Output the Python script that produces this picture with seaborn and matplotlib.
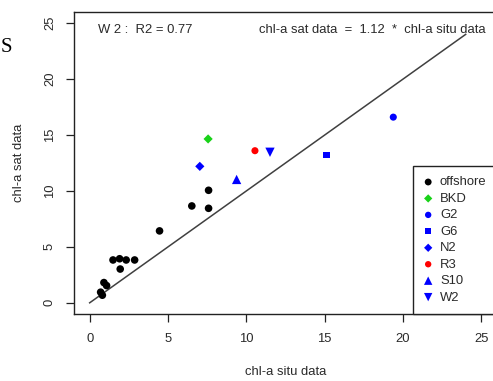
import matplotlib
matplotlib.use('Agg')
import matplotlib.pyplot as plt
import seaborn as sns
import pandas as pd

# offshore stations (black dots)
offshore_x = [0.70, 0.81, 0.91, 1.08, 1.49, 1.91, 1.95, 2.33, 2.87, 4.46, 6.52, 7.59, 7.59]
offshore_y = [0.95, 0.68, 1.81, 1.54, 3.83, 3.94, 3.02, 3.83, 3.83, 6.43, 8.66, 10.06, 8.45]

# named coastal stations
station_names = ['BKD', 'G2', 'G6', 'N2', 'R3', 'S10', 'W2']
station_x = [7.56, 19.38, 15.12, 7.03, 10.55, 9.38, 11.51]
station_y = [14.65, 16.60, 13.20, 12.20, 13.60, 11.03, 13.46]

# 1:1 reference segment
line_x = [0, 24]
line_y = [0, 24]

x_ticks = [0, 5, 10, 15, 20, 25]
y_ticks = [0, 5, 10, 15, 20, 25]

r2_label = 'W 2 :  R2 = 0.77'
eq_label = 'chl-a sat data  =  1.12  *  chl-a situ data'

df = pd.DataFrame({'site': ['offshore'] * len(offshore_x) + station_names,
                   'situ': offshore_x + station_x,
                   'sat': offshore_y + station_y})

colors = {'offshore': 'black', 'BKD': '#19d219', 'G2': 'blue', 'G6': 'blue',
          'N2': 'blue', 'R3': 'red', 'S10': 'blue', 'W2': 'blue'}
markers = {'offshore': 'o', 'BKD': 'D', 'G2': 'o', 'G6': 's',
           'N2': 'D', 'R3': 'o', 'S10': '^', 'W2': 'v'}
sizes = {'offshore': 30, 'BKD': 22, 'G2': 26, 'G6': 22,
         'N2': 22, 'R3': 26, 'S10': 45, 'W2': 45}

txt = '#2a2a2a'
plt.rcParams['font.family'] = ['Liberation Sans', 'DejaVu Sans']

fig = plt.figure(figsize=(4.93, 3.81), dpi=100)
ax = fig.add_axes([74 / 493, 1 - 314 / 381, 423 / 493, 302 / 381])

for site in ['offshore'] + station_names:
    sub = df[df['site'] == site]
    sns.scatterplot(data=sub, x='situ', y='sat', ax=ax, color=colors[site],
                    marker=markers[site], s=sizes[site], edgecolor='none',
                    label=site, zorder=3)

ax.plot(line_x, line_y, color='#404040', lw=1.1, zorder=2)

ax.set_xlim(-1, 26)
ax.set_ylim(-1, 26)
ax.set_xticks(x_ticks)
ax.set_yticks(y_ticks)
ax.tick_params(direction='out', length=6, width=0.9, colors='#222222',
               labelcolor=txt, labelsize=9.4)
ax.tick_params(axis='x', pad=8)
ax.tick_params(axis='y', pad=7)
for lab in ax.get_yticklabels():
    lab.set_rotation(90)
    lab.set_va('center')
for sp in ax.spines.values():
    sp.set_color('#222222')
    sp.set_linewidth(1.0)

ax.set_xlabel('chl-a situ data', fontsize=9.4, color=txt, labelpad=15)
ax.set_ylabel('chl-a sat data', fontsize=9.4, color=txt, labelpad=14)

ax.text(0.5, 24.4, r2_label, fontsize=9.4, color=txt, ha='left', va='center')
ax.text(10.8, 24.4, eq_label, fontsize=9.4, color=txt, ha='left', va='center')

leg = ax.legend(loc='lower right', bbox_to_anchor=(1, 0), borderaxespad=0,
                fontsize=9.4, frameon=True, fancybox=False, framealpha=1,
                edgecolor='#222222', handlelength=0.8, handletextpad=0.5,
                labelspacing=0.33, borderpad=0.8, markerscale=0.9)
leg.get_frame().set_linewidth(1.0)
for t in leg.get_texts():
    t.set_color(txt)

# slide text peeking in on the left edge
fig.text(0.5 / 493, 1 - 52 / 381, 'S', family=['Liberation Serif', 'DejaVu Serif'],
         fontsize=15, color='black', va='baseline', ha='left')

fig.savefig('out.png', dpi=100)
